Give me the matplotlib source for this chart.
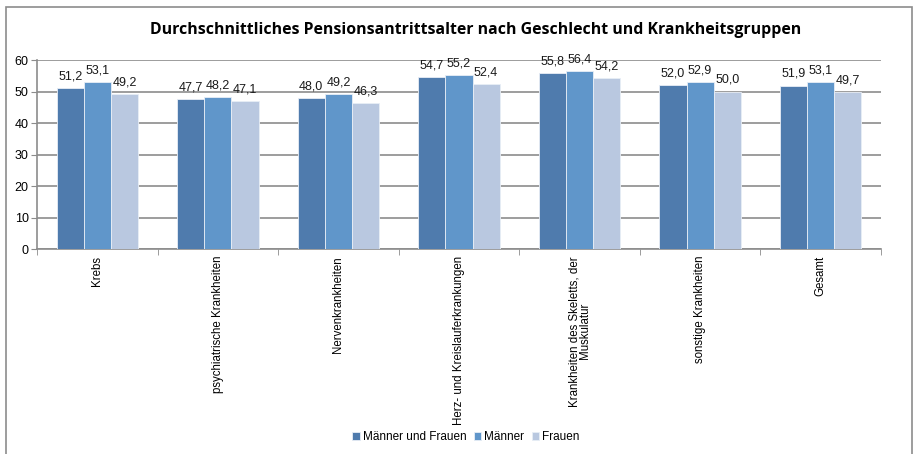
import matplotlib.pyplot as plt
import numpy as np
from matplotlib.patches import Rectangle

# Krankheitsgruppen und durchschnittliches Pensionsantrittsalter
kategorien = [
    "Krebs",
    "psychiatrische Krankheiten",
    "Nervenkrankheiten",
    "Herz- und Kreislauferkrankungen",
    "Krankheiten des Skeletts, der\nMuskulatur",
    "sonstige Krankheiten",
    "Gesamt",
]
gesamt = [51.2, 47.7, 48.0, 54.7, 55.8, 52.0, 51.9]
maenner = [53.1, 48.2, 49.2, 55.2, 56.4, 52.9, 53.1]
frauen = [49.2, 47.1, 46.3, 52.4, 54.2, 50.0, 49.7]

serien = [
    ("Männer und Frauen", gesamt, "#4f7bad"),
    ("Männer", maenner, "#6096ca"),
    ("Frauen", frauen, "#b9c8e0"),
]

plt.rcParams["font.family"] = ["Liberation Sans", "DejaVu Sans"]

fig = plt.figure(figsize=(9.2, 4.54), dpi=100)
ax = fig.add_axes([0.0402, 0.4515, 0.9174, 0.4163])

# Rahmen um das gesamte Diagramm
fig.patches.append(Rectangle((6 / 920, -0.05), 906 / 920, 1.05 - 7 / 454,
                             transform=fig.transFigure, fill=False,
                             edgecolor="#8c8c8c", linewidth=1.2))

x = np.arange(len(kategorien))
breite = 0.225
for i, (name, werte, farbe) in enumerate(serien):
    pos = x + (i - 1) * breite
    ax.bar(pos, werte, width=breite, color=farbe, edgecolor="#e8eef6",
           linewidth=0.6, label=name, zorder=3)
    for xp, w in zip(pos, werte):
        ax.annotate(f"{w:.1f}".replace(".", ","), (xp, w),
                    xytext=(0, 4), textcoords="offset points",
                    ha="center", va="bottom", fontsize=9, color="#1a1a1a")

ax.set_xlim(-0.5, len(kategorien) - 0.5)
ax.set_ylim(0, 60)
ax.set_yticks(range(0, 61, 10))
ax.yaxis.grid(True, color="#8c8c8c", linewidth=1.2, zorder=0)
ax.tick_params(axis="y", labelsize=9, length=4, color="#8c8c8c", pad=2)

# Kategorienbeschriftung senkrecht, Striche zwischen den Gruppen
ax.set_xticks(x)
ax.set_xticklabels(kategorien, rotation=90, va="top", ha="center",
                   fontsize=8.3, linespacing=0.9)
ax.tick_params(axis="x", length=0, pad=5)
ax.set_xticks(np.arange(len(kategorien) + 1) - 0.5, minor=True)
ax.tick_params(axis="x", which="minor", length=4, color="#8c8c8c")

for side in ("top", "right"):
    ax.spines[side].set_visible(False)
ax.spines["left"].set_color("#8c8c8c")
ax.spines["bottom"].set_color("#8c8c8c")
ax.spines["left"].set_linewidth(1.2)
ax.spines["bottom"].set_linewidth(1.2)

fig.text(476 / 920, 1 - 30 / 454,
         "Durchschnittliches Pensionsantrittsalter nach Geschlecht und Krankheitsgruppen",
         ha="center", va="center", fontsize=11.4, fontweight="bold",
         family=["Open Sans", "DejaVu Sans"])

fig.legend(loc="center", bbox_to_anchor=(466 / 920, 1 - 437 / 454), ncol=3,
           frameon=False, handlelength=0.6, handleheight=0.6,
           handletextpad=0.3, columnspacing=0.6,
           prop={"family": ["Liberation Sans Narrow", "Liberation Sans"], "size": 8.5})

fig.savefig("out.png", dpi=100)
